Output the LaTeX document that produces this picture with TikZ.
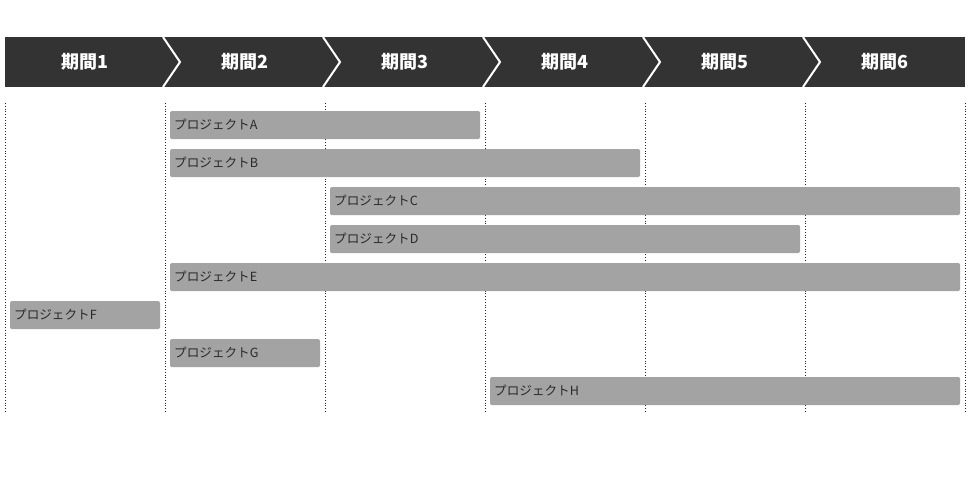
\documentclass[tikz,border=0pt]{standalone}
\usepackage{fontspec}
\newfontfamily\jp{Noto Sans CJK JP}
\definecolor{hdr}{HTML}{333333}
\definecolor{barc}{HTML}{A3A3A3}
\definecolor{txt}{HTML}{2A2A2A}
\begin{document}
\begin{tikzpicture}[x=1pt,y=-1pt,
  hdrlabel/.style={text=white,font=\jp\bfseries\fontsize{18}{20}\selectfont,inner sep=0},
  projbar/.style={fill=barc,rounded corners=1.5pt,draw=none},
  projlabel/.style={text=txt,font=\jp\fontsize{12.6}{14}\selectfont,anchor=west,inner sep=0},
  colline/.style={dotted,line width=0.8pt,black!85}]
\useasboundingbox (0,0) rectangle (978,488);
% header
\fill[hdr] (5,37) rectangle (965,87);
\foreach \x in {163,323,483,643,803}{
  \draw[white,line width=2pt] (\x,37) -- (\x+17,62) -- (\x,87);
}
\foreach \i/\c in {1/85,2/245,3/405,4/565,5/725,6/885}{
  \node[hdrlabel] (h\i) at (\c,62) {期間\i};
}
% column lines
\foreach \x in {5,165,325,485,645,805,965}{
  \draw[colline] (\x,103) -- (\x,412);
}
% bars
\foreach \n/\a/\b/\y in {A/170/480/125,B/170/640/163,C/330/960/201,D/330/800/239,E/170/960/277,F/10/160/315,G/170/320/353,H/490/960/391}{
  \fill[projbar] (\a,\y-14) rectangle (\b,\y+14);
  \node[projlabel] (p\n) at (\a+4,\y) {プロジェクト\n};
}
\end{tikzpicture}
\end{document}
